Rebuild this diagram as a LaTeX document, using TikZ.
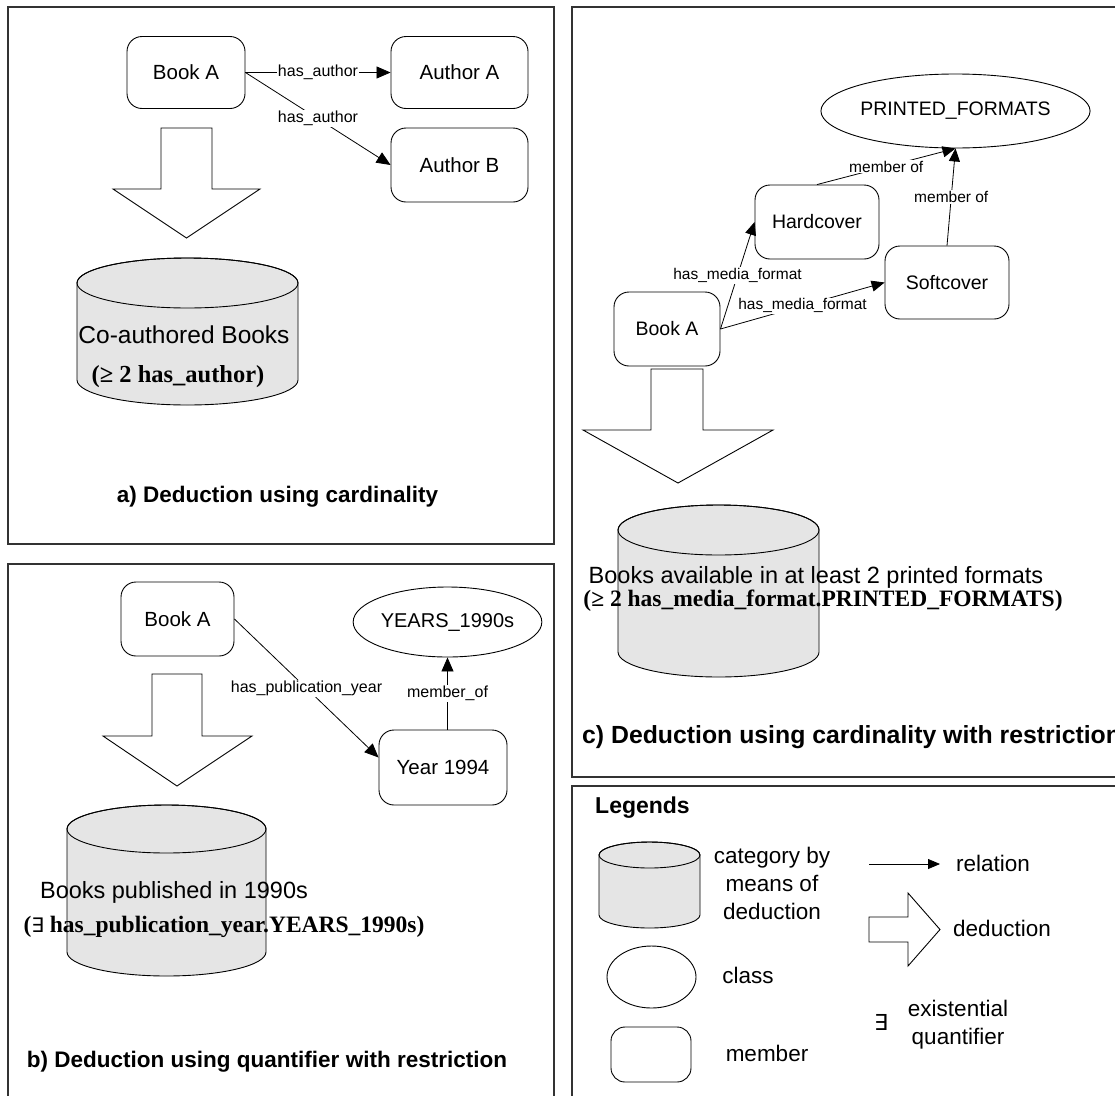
\documentclass[tikz,border=0pt]{standalone}
\usepackage{fontspec}
\setmainfont{Liberation Sans}
\newfontfamily\formulafont{Liberation Serif}
\newfontfamily\logicfont{DejaVu Sans}
\usetikzlibrary{arrows.meta,shapes.geometric}

% drum (category) shape: centre x, x radius, top y, bottom y, y radius
\newcommand\drumat[5]{%
  \filldraw[drumfill] (#1-#2,#3) -- (#1-#2,#4)
    arc[start angle=180,end angle=360,x radius=#2pt,y radius=#5pt]
    -- (#1+#2,#3)
    arc[start angle=0,end angle=180,x radius=#2pt,y radius=#5pt] -- cycle;
  \draw[drumfill,fill=none] (#1,#3) ellipse[x radius=#2pt,y radius=#5pt];}

\begin{document}
\begin{tikzpicture}[x=1pt,y=1pt,
  panel/.style={draw=black!80, line width=1.3pt},
  member/.style={draw, line width=0.9pt, rounded corners=15pt, inner sep=0pt,
                 font=\fontsize{20.5}{24}\selectfont},
  klass/.style={draw, ellipse, line width=0.9pt, inner sep=0pt,
                font=\fontsize{20}{24}\selectfont},
  rel/.style={line width=0.8pt, -{Triangle[length=14pt,width=12pt]}},
  lbl/.style={fill=white, inner sep=1pt, font=\fontsize{16}{18}\selectfont},
  deduce/.style={draw, line width=0.9pt, fill=white, line join=miter},
  drumfill/.style={draw, line width=0.9pt, fill=black!10},
  drumtext/.style={font=\fontsize{23.5}{27}\selectfont, inner sep=0pt},
  formula/.style={font=\formulafont\bfseries\fontsize{23.5}{27}\selectfont, inner sep=0pt},
  caption/.style={font=\bfseries\fontsize{22.5}{26}\selectfont, inner sep=0pt},
  legendtext/.style={font=\fontsize{22.5}{28}\selectfont, align=center, inner sep=0pt}
]
\clip (0,0) rectangle (1115,-1095);
\fill[white] (0,0) rectangle (1115,-1095);

% panel frames
\draw[panel] (8,-7) rectangle (554,-544);
\draw[panel] (8,-564) rectangle (554,-1120);
\draw[panel] (572,-7) rectangle (1140,-777);
\draw[panel] (572,-786) rectangle (1140,-1120);

% ---------- a) cardinality ----------
\node[member, minimum width=118pt, minimum height=72pt] (aBook) at (186,-72.5) {Book A};
\node[member, minimum width=137pt, minimum height=72pt] (aAuthA) at (459.5,-72.5) {Author A};
\node[member, minimum width=137pt, minimum height=74pt] (aAuthB) at (459.5,-165) {Author B};
\draw[rel] (aBook.east) -- node[lbl] {has\_author} (aAuthA.west);
\draw[rel] (aBook.east) -- node[lbl] {has\_author} (aAuthB.west);
\draw[deduce] (161,-128) -- (212,-128) -- (212,-189) -- (260,-189) -- (186.5,-238)
  -- (113,-189) -- (161,-189) -- cycle;
\drumat{187.5}{110.5}{-283}{-380}{25}
\node[drumtext, font=\fontsize{24.5}{28}\selectfont] (aCat) at (184,-335) {Co-authored Books};
\node[formula, font=\formulafont\bfseries\fontsize{24.5}{28}\selectfont] (aRule) at (178,-377) {(≥ 2 has\_author)};
\node[caption] (aTitle) at (277.5,-497) {a) Deduction using cardinality};

% ---------- b) quantifier with restriction ----------
\node[member, minimum width=113pt, minimum height=74pt] (bBook) at (177.5,-619) {Book A};
\node[klass, minimum width=179pt, minimum height=70pt] (bYears) at (447.5,-622) {YEARS\_1990s};
\node[member, minimum width=128pt, minimum height=75pt] (bYear) at (443,-767.5) {Year 1994};
\draw[rel] (bBook.east) -- node[lbl] {has\_publication\_year} ([yshift=10pt]bYear.west);
\draw[rel] (bYear.north -| bYears.south) -- node[lbl] {member\_of} (bYears.south);
\draw[deduce] (152,-674) -- (202,-674) -- (202,-736) -- (252,-736) -- (177,-786)
  -- (103,-736) -- (152,-736) -- cycle;
\drumat{166.5}{99.5}{-829}{-952}{24}
\node[drumtext] (bCat) at (174,-892) {Books published in 1990s};
\node[formula] (bRule) at (224,-927)
  {({\logicfont\mdseries\fontsize{20}{24}\selectfont ∃} has\_publication\_year.YEARS\_1990s)};
\node[caption] (bTitle) at (267,-1062) {b) Deduction using quantifier with restriction};

% ---------- c) cardinality with restriction ----------
\node[klass, minimum width=244pt, minimum height=74pt, font=\fontsize{19.5}{24}\selectfont]
  (cPrint) at (955.5,-111) {PRINTED\_FORMATS};
\node[member, minimum width=124pt, minimum height=74pt, font=\fontsize{19.5}{24}\selectfont]
  (cHard) at (817,-222) {Hardcover};
\node[member, minimum width=124pt, minimum height=73pt, font=\fontsize{19.5}{24}\selectfont]
  (cSoft) at (947,-282.5) {Softcover};
\node[member, minimum width=106pt, minimum height=74pt, font=\fontsize{19.5}{24}\selectfont]
  (cBook) at (667,-329) {Book A};
\begin{scope}[rel/.append style={-{Triangle[length=13pt,width=11pt]}},
              lbl/.append style={font=\fontsize{15.5}{18}\selectfont}]
\draw[rel] (cBook.east) -- node[lbl] {has\_media\_format} (cHard.west);
\draw[rel] (cBook.east) -- node[lbl] {has\_media\_format} (cSoft.west);
\draw[rel] (cHard.north) -- node[lbl] {member of} (cPrint.south);
\draw[rel] (cSoft.north) -- node[lbl] {member of} (cPrint.south);
\end{scope}
\draw[deduce] (651,-369) -- (703,-369) -- (703,-430) -- (773,-430) -- (678,-483)
  -- (583,-430) -- (651,-430) -- cycle;
\drumat{718.5}{100.5}{-530}{-652}{25}
\node[drumtext] (cCat) at (816,-577) {Books available in at least 2 printed formats};
\node[formula] (cRule) at (823,-601) {(≥ 2 has\_media\_format.PRINTED\_FORMATS)};
\node[caption, anchor=west, font=\bfseries\fontsize{24.8}{28}\selectfont] (cTitle) at (582,-737)
  {c) Deduction using cardinality with restriction};

% ---------- legend ----------
\node[caption, anchor=west, font=\bfseries\fontsize{23}{26}\selectfont] (lTitle) at (595,-808) {Legends};
\drumat{649.5}{50.5}{-855}{-915}{13}
\node[legendtext] (lCat) at (772,-883) {category by\\means of\\deduction};
\node[klass, minimum width=89pt, minimum height=62pt] (lClass) at (651.5,-977) {};
\node[legendtext] (lClassTxt) at (748,-975) {class};
\node[member, rounded corners=14pt, minimum width=80pt, minimum height=55pt] (lMember) at (651,-1054.5) {};
\node[legendtext] (lMemberTxt) at (767,-1053) {member};
\coordinate (relFrom) at (869,-864);
\coordinate (relTo) at (940,-864);
\draw[rel, -{Triangle[length=12pt,width=10pt]}] (relFrom) -- (relTo);
\node[legendtext] (lRel) at (993,-863) {relation};
\draw[deduce] (869,-917) -- (908,-917) -- (908,-893) -- (940,-929.5) -- (908,-966)
  -- (908,-942) -- (869,-942) -- cycle;
\node[legendtext] (lDed) at (1002,-928) {deduction};
\node[inner sep=0pt, font=\logicfont\fontsize{22}{24}\selectfont] (lExists) at (881,-1022) {∃};
\node[legendtext] (lExistsTxt) at (958,-1025) {existential\\quantifier};
\end{tikzpicture}
\end{document}
